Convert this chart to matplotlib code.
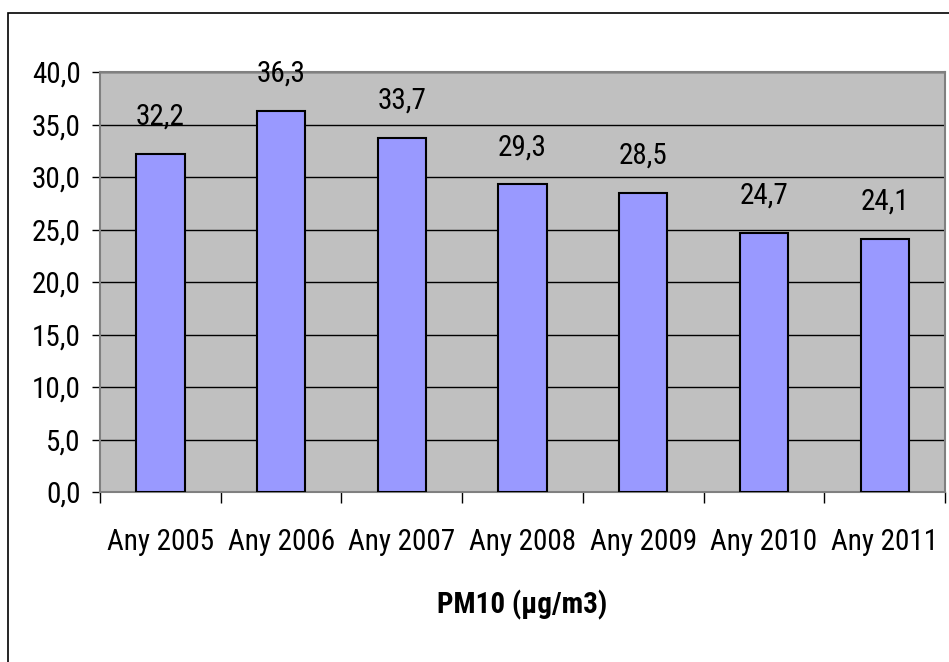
import matplotlib
matplotlib.use('Agg')
import matplotlib.pyplot as plt
import matplotlib.ticker as mticker
from matplotlib.patches import Rectangle

## Data
years = ['Any 2005', 'Any 2006', 'Any 2007', 'Any 2008', 'Any 2009', 'Any 2010', 'Any 2011']
pm10 = [32.2, 36.3, 33.7, 29.3, 28.5, 24.7, 24.1]
yticks = [0, 5, 10, 15, 20, 25, 30, 35, 40]

plt.rcParams['font.family'] = ['Roboto Condensed', 'Liberation Sans', 'DejaVu Sans']

def comma(v, pos=None):
    return ('%.1f' % v).replace('.', ',')

fig = plt.figure(figsize=[9.49, 6.62], dpi=100)
ax = fig.add_axes([100/949, 1-492/662, 845/949, 420/662])

# outer chart frame (runs off the right and bottom of the picture)
fig.patches.append(Rectangle((7.5/949, -0.5), 2, 1.5 - 12.5/662,
                             transform=fig.transFigure, fill=False,
                             edgecolor='black', linewidth=1.2))

ax.set_facecolor('#C0C0C0')
xs = range(len(years))
bars = ax.bar(xs, pm10, width=0.4, color='#9999FF', edgecolor='black',
              linewidth=1.5, zorder=3)

# value labels above each bar
for x, v in zip(xs, pm10):
    ax.annotate(comma(v), (x, v), xytext=(0, 21), textcoords='offset points',
                ha='center', va='baseline', fontsize=21)

ax.set_xlim(-0.5, len(years) - 0.5)
ax.set_ylim(0, 40)
ax.set_yticks(yticks)
ax.yaxis.set_major_formatter(mticker.FuncFormatter(comma))
ax.yaxis.grid(True, color='black', linewidth=1.0, zorder=1)
ax.set_axisbelow(True)

# category labels at centres, tick marks at the boundaries
ax.set_xticks(list(xs))
ax.set_xticklabels(years)
ax.set_xticks([i - 0.5 for i in range(len(years) + 1)], minor=True)
ax.tick_params(axis='x', which='major', length=0, pad=26, labelsize=21)
ax.tick_params(axis='x', which='minor', length=8, width=1, color='black', direction='out')
ax.tick_params(axis='y', length=6, width=1, color='black', pad=8, labelsize=21)

for s in ax.spines.values():
    s.set_color('#808080')
    s.set_linewidth(1.5)

ax.set_xlabel('PM10 (µg/m3)', fontsize=21, fontweight='bold', labelpad=24)

plt.savefig('out.png', dpi=100)
